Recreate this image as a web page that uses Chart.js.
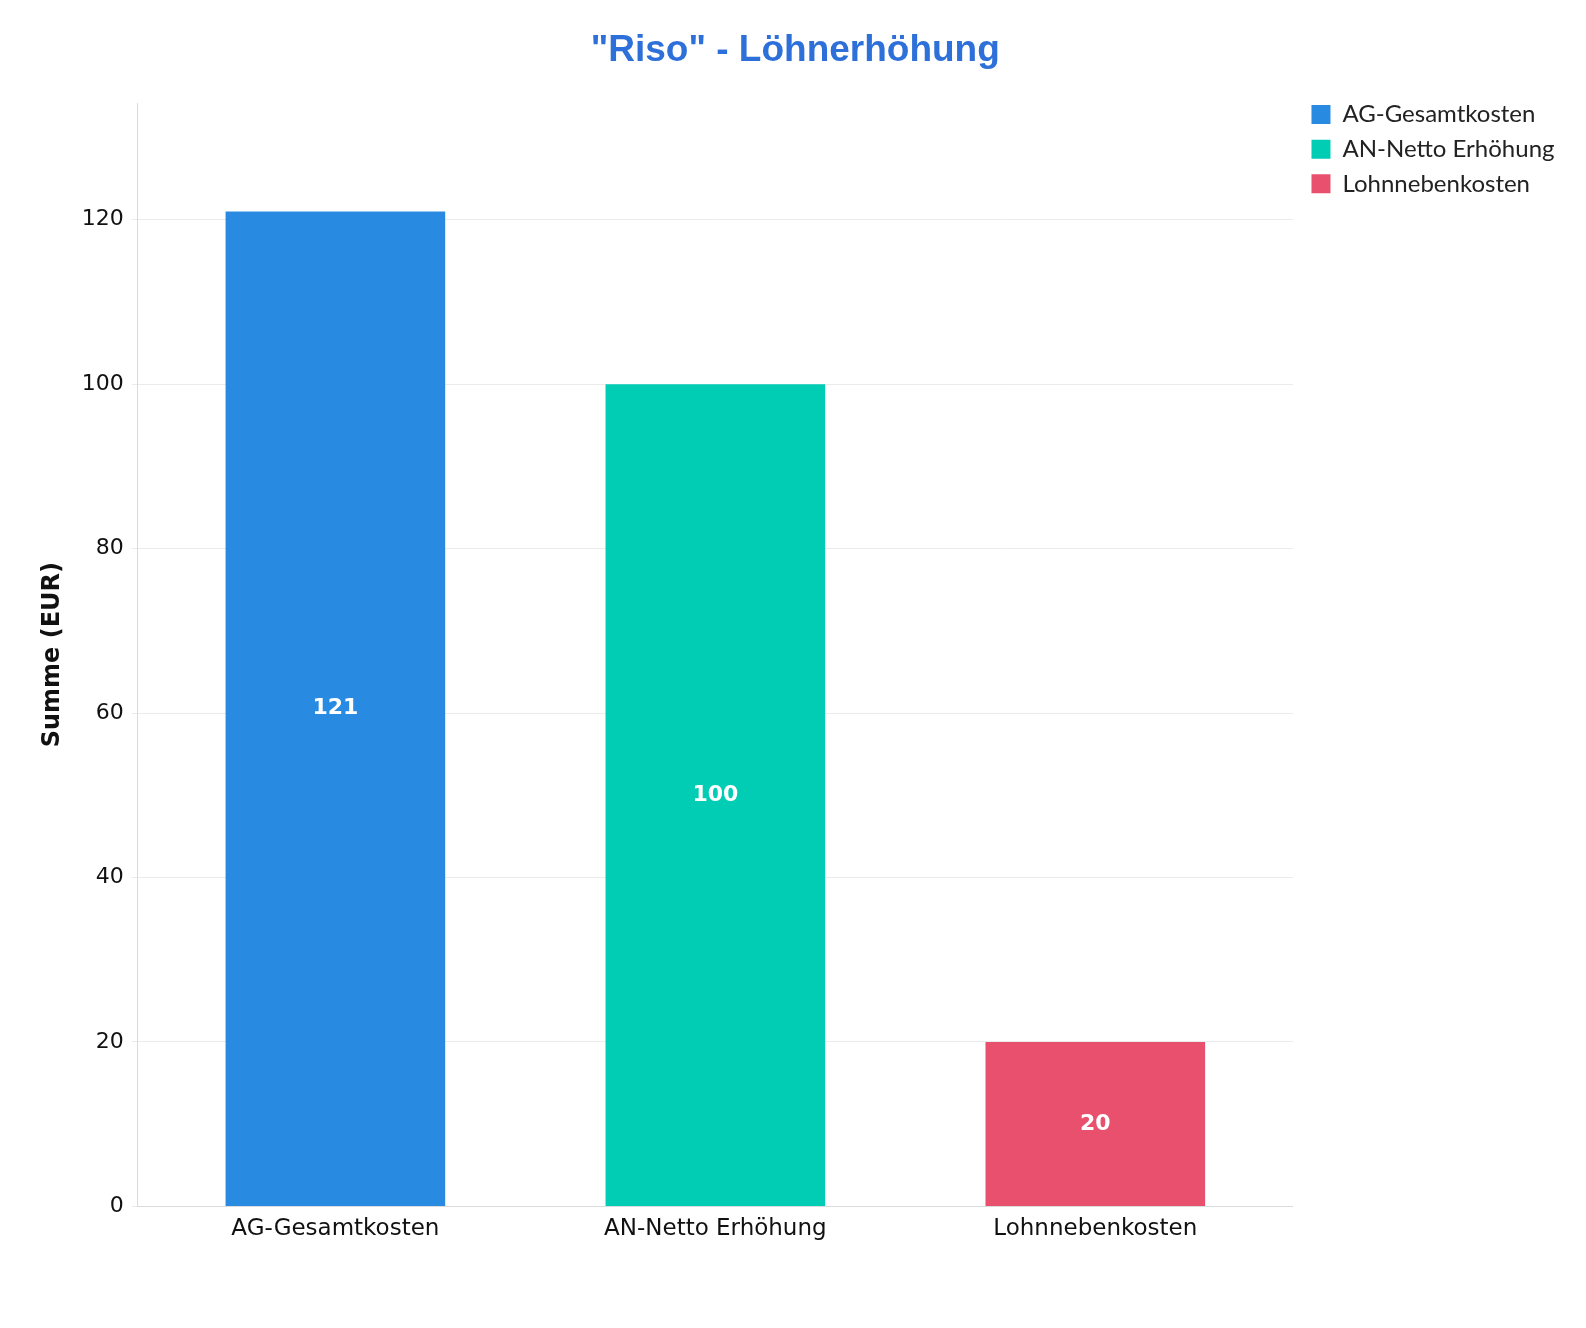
<!DOCTYPE html>
<html>
<head>
<meta charset="utf-8">
<script src="https://cdn.jsdelivr.net/npm/chart.js@4.4.1/dist/chart.umd.min.js"></script>
<style>
  html, body { margin: 0; padding: 0; background: #ffffff; }
  #wrap { width: 1586px; height: 1328px; }
</style>
</head>
<body>
<div id="wrap"><canvas id="c" width="1586" height="1328"></canvas></div>
<script>
const chartTitle = '"Riso" - Löhnerhöhung';
const yAxisTitle = 'Summe (EUR)';
const categories = ['AG-Gesamtkosten', 'AN-Netto Erhöhung', 'Lohnnebenkosten'];
const seriesNames = ['AG-Gesamtkosten', 'AN-Netto Erhöhung', 'Lohnnebenkosten'];
const seriesValues = [121, 100, 20];
const yTickValues = [0, 20, 40, 60, 80, 100, 120];
const seriesColors = ['#288be1', '#00cdb4', '#e9506e'];

const barLabels = {
  id: 'barLabels',
  afterDatasetsDraw(chart) {
    const ctx = chart.ctx;
    chart.data.datasets.forEach((ds, di) => {
      const meta = chart.getDatasetMeta(di);
      meta.data.forEach((bar, i) => {
        const v = ds.data[i].y;
        ctx.save();
        ctx.fillStyle = '#ffffff';
        ctx.font = 'bold 22px "DejaVu Sans"';
        ctx.textAlign = 'center';
        ctx.textBaseline = 'middle';
        ctx.fillText(String(v), bar.x, (bar.y + bar.base) / 2);
        ctx.restore();
      });
    });
  }
};

// nudge the legend block: up to sit level with the plot top, and a little right
const legendNudge = {
  id: 'legendNudge',
  afterLayout(chart) {
    const lg = chart.legend;
    if (!lg) return;
    lg.top -= 11; lg.bottom -= 11;
    lg.left += 8; lg.right += 8;
  }
};

const datasets = seriesNames.map((name, i) => ({
  label: name,
  data: [{ x: i, y: seriesValues[i] }],
  backgroundColor: seriesColors[i],
  borderWidth: 0
}));

new Chart(document.getElementById('c'), {
  type: 'bar',
  data: { datasets },
  plugins: [barLabels, legendNudge],
  options: {
    responsive: false,
    animation: false,
    devicePixelRatio: 1,
    grouped: false,
    barPercentage: 0.578,
    categoryPercentage: 1,
    layout: { padding: { top: 0, left: 34, right: 29.5, bottom: 76 } },
    plugins: {
      title: {
        display: true,
        text: chartTitle,
        color: '#2d70d9',
        font: { family: '"Liberation Sans", Arial, sans-serif', size: 37, weight: 'bold' },
        padding: { top: 28.3, bottom: 30.3 }
      },
      legend: {
        position: 'right',
        align: 'start',
        fullSize: false,
        labels: {
          boxWidth: 19,
          boxHeight: 19,
          padding: 10.6,
          color: '#222222',
          font: { family: 'Lato', size: 24 }
        }
      },
      tooltip: { enabled: false }
    },
    scales: {
      x: {
        type: 'linear',
        offset: false,
        min: -0.52,
        max: 2.52,
        afterBuildTicks: (s) => { s.ticks = categories.map((c, i) => ({ value: i })); },
        grid: { display: false, drawTicks: false },
        border: { display: true, color: '#d9dcdd', width: 1 },
        ticks: {
          autoSkip: false,
          maxRotation: 0,
          padding: 9,
          color: '#111111',
          font: { family: '"DejaVu Sans"', size: 23 },
          callback: (v) => categories[v]
        }
      },
      y: {
        min: 0,
        max: 134.2,
        afterBuildTicks: (s) => { s.ticks = yTickValues.map(v => ({ value: v })); },
        grid: { color: '#ebebeb', lineWidth: 1, tickLength: 6 },
        border: { display: true, color: '#d9dcdd', width: 1 },
        ticks: {
          padding: 8,
          color: '#111111',
          font: { family: '"DejaVu Sans"', size: 22 }
        },
        title: {
          display: true,
          text: yAxisTitle,
          color: '#111111',
          font: { family: '"DejaVu Sans"', size: 24, weight: 'bold' },
          padding: { top: 4, bottom: 7 }
        }
      }
    }
  }
});
</script>
</body>
</html>
